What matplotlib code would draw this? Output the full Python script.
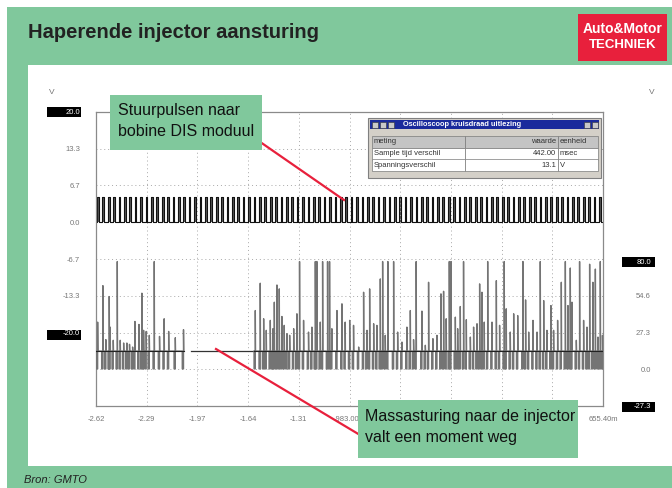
import numpy as np
import matplotlib.pyplot as plt
from matplotlib.patches import Rectangle
from matplotlib.lines import Line2D

plt.rcParams['font.family'] = ['Liberation Sans', 'DejaVu Sans']

W, H = 672, 488
GREEN = '#80c89c'
RED = '#e8203c'

# channel A: rising edges of the ignition pulses (s) and pulse level (V)
pulse_rise = [-2.615, -2.580, -2.545, -2.510, -2.475, -2.440, -2.406, -2.371, -2.336, -2.301,
              -2.266, -2.231, -2.196, -2.161, -2.126, -2.092, -2.057, -2.022, -1.987, -1.952,
              -1.917, -1.882, -1.847, -1.812, -1.778, -1.743, -1.708, -1.673, -1.638, -1.603,
              -1.568, -1.533, -1.498, -1.464, -1.429, -1.394, -1.359, -1.324, -1.289, -1.254,
              -1.219, -1.184, -1.150, -1.115, -1.080, -1.045, -1.010, -0.975, -0.940, -0.905,
              -0.870, -0.836, -0.801, -0.766, -0.731, -0.696, -0.661, -0.626, -0.591, -0.556,
              -0.522, -0.487, -0.452, -0.417, -0.382, -0.347, -0.312, -0.277, -0.242, -0.208,
              -0.173, -0.138, -0.103, -0.068, -0.033, 0.002, 0.037, 0.072, 0.106, 0.141,
              0.176, 0.211, 0.246, 0.281, 0.316, 0.351, 0.385, 0.420, 0.455, 0.490,
              0.525, 0.560, 0.595, 0.630]
pulse_width = 0.011
pulse_high = 4.6

# channel B: injector events before the drop-out, time (s) and flyback peak (V)
inj_left_t = [-2.611, -2.577, -2.558, -2.536, -2.530, -2.510, -2.484, -2.465, -2.443, -2.422,
              -2.405, -2.385, -2.370, -2.344, -2.325, -2.314, -2.297, -2.277, -2.245, -2.211,
              -2.181, -2.152, -2.109, -2.056]
inj_left_v = [35.0, 62.1, 22.0, 54.0, 31.3, 21.5, 80.0, 21.5, 19.5, 19.5,
              18.5, 16.5, 35.5, 33.3, 56.5, 28.9, 28.1, 25.2, 80.0, 24.4,
              37.5, 28.1, 23.4, 29.4]
# injector events after the drop-out
inj_right_t = [-1.592, -1.560, -1.538, -1.521, -1.495, -1.478, -1.469, -1.452, -1.437, -1.420,
               -1.405, -1.388, -1.370, -1.344, -1.323, -1.306, -1.280, -1.248, -1.226, -1.204,
               -1.194, -1.172, -1.157, -1.125, -1.112, -1.097, -1.064, -1.032, -1.011, -0.982,
               -0.957, -0.924, -0.892, -0.870, -0.853, -0.827, -0.806, -0.784, -0.769, -0.752,
               -0.735, -0.698, -0.672, -0.644, -0.612, -0.590, -0.569, -0.552, -0.515, -0.493,
               -0.472, -0.444, -0.418, -0.392, -0.375, -0.358, -0.338, -0.327, -0.299, -0.284,
               -0.267, -0.246, -0.228, -0.202, -0.181, -0.159, -0.142, -0.127, -0.112, -0.090,
               -0.062, -0.034, -0.013, 0.017, 0.030, 0.056, 0.078, 0.104, 0.138, 0.155,
               0.175, 0.203, 0.229, 0.250, 0.272, 0.293, 0.319, 0.336, 0.362, 0.386,
               0.412, 0.429, 0.444, 0.455, 0.483, 0.504, 0.530, 0.552, 0.569, 0.590,
               0.606, 0.623, 0.638, 0.652]
inj_right_v = [43.6, 63.9, 37.5, 28.9, 36.3, 30.1, 49.8, 62.6, 59.7, 39.2,
               32.6, 26.4, 25.2, 30.1, 41.2, 80.0, 36.3, 27.6, 31.3, 80.0,
               80.0, 35.0, 80.0, 80.0, 80.0, 30.1, 43.6, 48.6, 35.0, 36.3,
               32.6, 16.5, 57.2, 28.9, 59.7, 33.8, 32.6, 67.1, 80.0, 25.2,
               80.0, 80.0, 27.6, 20.2, 31.3, 43.6, 22.0, 80.0, 43.2, 17.8,
               64.6, 22.7, 25.2, 56.0, 57.9, 37.5, 80.0, 80.0, 38.7, 30.1,
               46.6, 80.0, 36.8, 23.9, 31.3, 33.8, 63.4, 57.2, 35.0, 80.0,
               35.0, 65.8, 32.6, 80.0, 44.9, 27.6, 41.2, 39.9, 80.0, 51.5,
               27.6, 36.3, 27.6, 80.0, 51.0, 28.9, 47.3, 28.9, 36.3, 64.6,
               80.0, 47.3, 75.2, 49.8, 21.5, 80.0, 36.3, 31.3, 78.0, 64.6,
               74.4, 23.9, 80.0, 25.2]
inj_base = 13.5
inj_low = 0.3
inj_dwell = 0.008
idle_start, idle_end = -2.006, -1.600   # only the supply voltage is seen here

x_ticks = [-2.6216, -2.2939, -1.9662, -1.6385, -1.3108, -0.9831, -0.6554, -0.3277, 0.0, 0.3277, 0.6554]
# labels under the annotation box are not visible in the screenshot
x_labels = ['-2.62', '-2.29', '-1.97', '-1.64', '-1.31', '-983.00m', '', '', '', '', '655.40m']
a_ticks = [20.0, 13.33, 6.67, 0.0, -6.67, -13.33, -20.0, -26.67]
a_labels = ['20.0', '13.3', '6.7', '0.0', '-6.7', '-13.3', '-20.0', '']
b_ticks = [80.0, 54.6, 27.3, 0.0, -27.3]
b_labels = ['80.0', '54.6', '27.3', '0.0', '-27.3']

table_rows = [('meting', 'waarde', 'eenheid'),
              ('Sample tijd verschil', '442.00', 'msec'),
              ('Spanningsverschil', '13.1', 'V')]


def fxy(x, y):
    return x / W, 1 - y / H


def rect(x0, y0, x1, y1, **kw):
    fig.add_artist(Rectangle(fxy(x0, y1), (x1 - x0) / W, (y1 - y0) / H,
                             transform=fig.transFigure, **kw))


def ftext(x, y, s, **kw):
    fig.text(*fxy(x, y), s, **kw)


def injector_trace(times, peaks):
    xs, ys = [], []
    for t, v in zip(times, peaks):
        xs += [t - inj_dwell, t - inj_dwell, t, t, t + 0.0015]
        ys += [inj_base, inj_low, inj_low, v, inj_base]
    return xs, ys


fig = plt.figure(figsize=(W / 100, H / 100), dpi=100)

# green frame and white panel
rect(7, 7, W, H, facecolor=GREEN, edgecolor='none', zorder=-10)
rect(28, 65, W, 466, facecolor='white', edgecolor='none', zorder=-9)
# black boxes behind the channel limit labels
for y0 in (107, 330):
    rect(47, y0, 80.5, y0 + 9.5, facecolor='black', edgecolor='none', zorder=-5)
for y0 in (257, 402):
    rect(622, y0, 655, y0 + 9.5, facecolor='black', edgecolor='none', zorder=-5)

ax = fig.add_axes([96 / W, 1 - 406 / H, (603 - 96) / W, (406 - 112) / H])
ax.set_facecolor('none')
ax.set_xlim(x_ticks[0], x_ticks[-1])
ax.set_ylim(-33.33, 20.0)
ax.set_xticks(x_ticks, x_labels)
ax.set_yticks(a_ticks, a_labels)
ax.grid(True, color='#a8a8a8', linestyle=(0, (1, 3)), linewidth=0.7)
ax.tick_params(length=0, labelsize=5.5, labelcolor='#777777')
ax.tick_params(axis='y', pad=11.5)
ax.tick_params(axis='x', pad=7)
for sp in ax.spines.values():
    sp.set_color('#8a8a8a')
    sp.set_linewidth(0.9)
for lab in ax.get_yticklabels():
    if lab.get_text() in ('20.0', '-20.0'):
        lab.set_color('white')

# channel A square wave
xa, ya = [x_ticks[0]], [0.0]
for t in pulse_rise:
    xa += [t, t, t + pulse_width, t + pulse_width]
    ya += [0.0, pulse_high, pulse_high, 0.0]
xa.append(x_ticks[-1])
ya.append(0.0)
ax.fill_between(xa, ya, 0, color='#555555', linewidth=0)
ax.plot(xa, ya, color='#111111', linewidth=0.8)

# channel B on the right scale
ax2 = ax.twinx()
ax2.set_ylim(-27.3, -27.3 + 8 * 27.3)
ax2.set_yticks(b_ticks)
ax2.set_yticklabels(b_labels, ha='right')
ax2.tick_params(length=0, labelsize=5.5, labelcolor='#777777', pad=34.5)
for sp in ax2.spines.values():
    sp.set_visible(False)
for lab in ax2.get_yticklabels():
    if lab.get_text() in ('80.0', '-27.3'):
        lab.set_color('white')

xl, yl = injector_trace(inj_left_t, inj_left_v)
ax2.plot([x_ticks[0]] + xl, [inj_base] + yl, color='#747474', linewidth=1.0)
ax2.plot([x_ticks[0], inj_left_t[-1]], [inj_base, inj_base], color='#222222', linewidth=0.8)
ax2.plot([idle_start, idle_end], [inj_base, inj_base], color='#333333', linewidth=0.9)
xr, yr = injector_trace(inj_right_t, inj_right_v)
ax2.plot(xr, yr, color='#747474', linewidth=1.0)
ax2.plot([idle_end, x_ticks[-1]], [inj_base, inj_base], color='#222222', linewidth=0.8)

ftext(52, 93, 'V', fontsize=6, color='#777777', ha='center', va='center')
ftext(652, 93, 'V', fontsize=6, color='#777777', ha='center', va='center')

# title and logo
ftext(28, 32, 'Haperende injector aansturing', fontsize=14.5, weight='bold',
      color='#222222', va='center', ha='left')
rect(578, 14, 667, 61, facecolor=RED, edgecolor='none', zorder=2)
ftext(622.5, 29, 'Auto&Motor', fontsize=10, weight='bold', color='white',
      ha='center', va='center', zorder=3)
ftext(622.5, 45, 'TECHNIEK', fontsize=9.5, weight='bold', color='white',
      ha='center', va='center', zorder=3)
ftext(24, 480, 'Bron: GMTO', fontsize=8, style='italic', color='#222222', va='center')

# oscilloscope read-out window
rect(368, 118, 601, 178, facecolor='#d4d0c8', edgecolor='#808080', linewidth=0.8, zorder=4)
rect(370, 120.5, 599, 128.5, facecolor='#1a2a9c', edgecolor='none', zorder=4)
for x0 in (372, 380, 388, 584, 592):
    rect(x0, 121.5, x0 + 6, 127.5, facecolor='#c8c8c8', edgecolor='#333333', linewidth=0.4, zorder=5)
ftext(403, 124.5, 'Oscilloscoop kruisdraad uitlezing', fontsize=5.3, weight='bold', color='white',
      va='center', zorder=6)
cols = [371.5, 465, 558, 597.5]
rows = [135.5, 147.5, 159.5, 171]
for r in range(3):
    for c in range(3):
        rect(cols[c], rows[r], cols[c + 1], rows[r + 1],
             facecolor='#c4c4c4' if r == 0 else 'white', edgecolor='#7a7a7a', linewidth=0.5, zorder=5)
        s = table_rows[r][c]
        ymid = (rows[r] + rows[r + 1]) / 2
        if c == 1:
            ftext(cols[2] - 2, ymid, s, fontsize=5.5, color='#333333', ha='right', va='center', zorder=6)
        else:
            ftext(cols[c] + 2, ymid, s, fontsize=5.5, color='#333333', ha='left', va='center', zorder=6)

# annotations
fig.add_artist(Line2D([240 / W, 344 / W], [1 - 128 / H, 1 - 200 / H], color=RED,
                      linewidth=1.6, transform=fig.transFigure, zorder=7))
fig.add_artist(Line2D([216 / W, 365 / W], [1 - 349 / H, 1 - 438 / H], color=RED,
                      linewidth=1.6, transform=fig.transFigure, zorder=7))
rect(110, 95, 262, 150, facecolor=GREEN, edgecolor='none', zorder=8)
ftext(118, 121, 'Stuurpulsen naar\nbobine DIS moduul', fontsize=11.5,
      color='#111111', va='center', ha='left', linespacing=1.45, zorder=9)
rect(358, 400, 578, 458, facecolor=GREEN, edgecolor='none', zorder=8)
ftext(365, 427, 'Massasturing naar de injector\nvalt een moment weg', fontsize=11.5,
      color='#111111', va='center', ha='left', linespacing=1.45, zorder=9)

fig.savefig('out.png', dpi=100)
